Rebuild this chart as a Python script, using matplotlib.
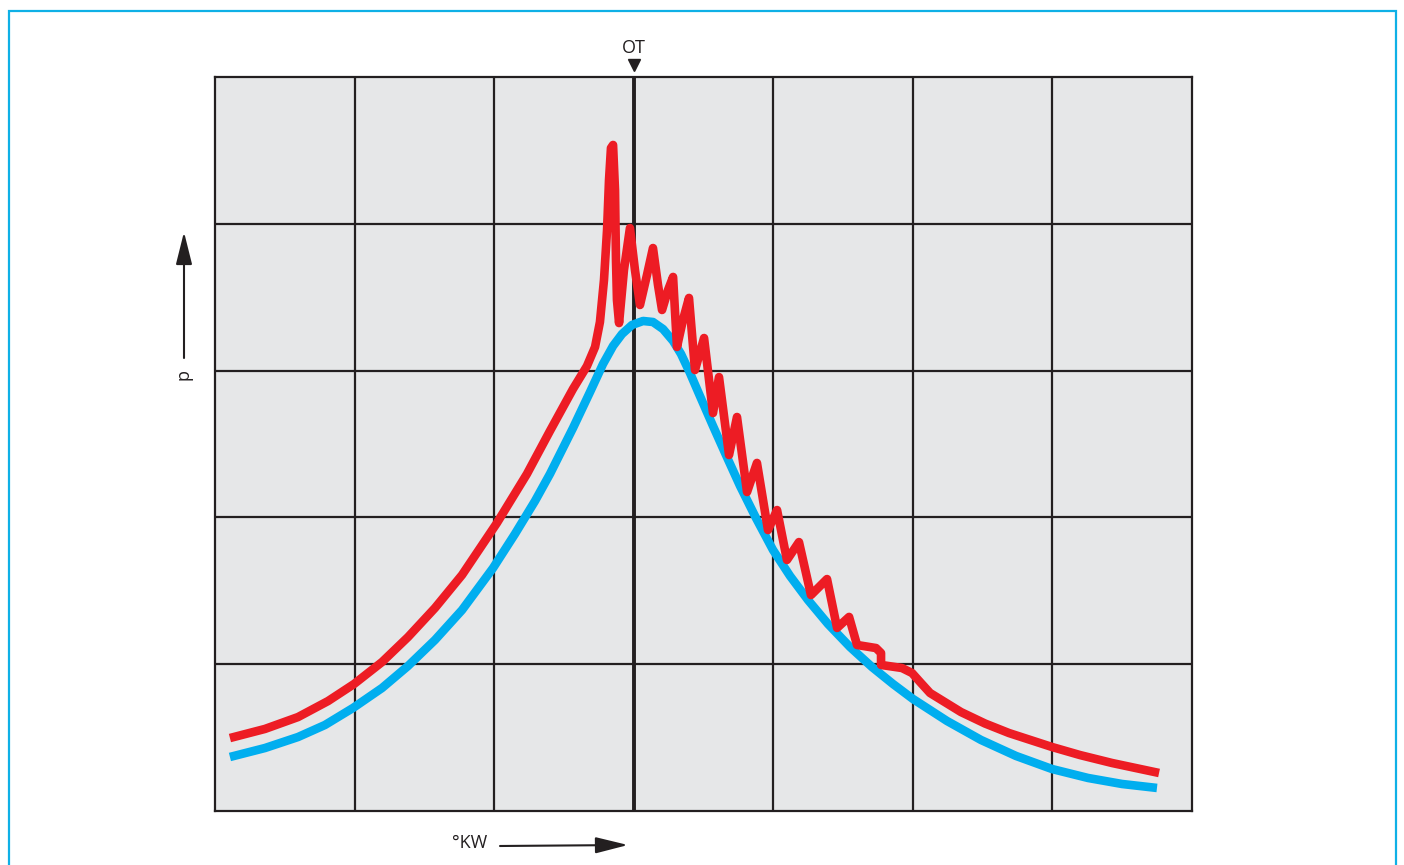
import matplotlib
matplotlib.use('agg')
import matplotlib.pyplot as plt
from matplotlib.patches import Rectangle

plt.rcParams['font.family'] = ['Open Sans', 'DejaVu Sans']

# Messkurven in Rastereinheiten (x: 7 Felder, y: 5 Felder), OT bei x=3
blue_x = [0.107, 0.358, 0.595, 0.788, 0.989, 1.197, 1.383, 1.576, 1.770, 1.992,
          2.149, 2.293, 2.400, 2.565, 2.687, 2.780, 2.852, 2.916, 2.988, 3.067,
          3.138, 3.210, 3.282, 3.339, 3.403, 3.468, 3.568, 3.661, 3.762, 3.876,
          3.998, 4.120, 4.249, 4.392, 4.550, 4.707, 4.858, 5.001, 5.245, 5.488,
          5.739, 5.997, 6.255, 6.499, 6.749]
blue_y = [0.368, 0.429, 0.504, 0.586, 0.702, 0.838, 0.988, 1.165, 1.369, 1.655,
          1.887, 2.112, 2.296, 2.609, 2.854, 3.045, 3.168, 3.249, 3.311, 3.338,
          3.331, 3.283, 3.202, 3.113, 2.984, 2.841, 2.623, 2.425, 2.214, 1.996,
          1.778, 1.601, 1.437, 1.274, 1.117, 0.981, 0.865, 0.763, 0.613, 0.484,
          0.375, 0.286, 0.225, 0.184, 0.157]

red_x = [0.107, 0.358, 0.595, 0.810, 0.996, 1.197, 1.383, 1.576, 1.770, 2.020,
         2.235, 2.400, 2.565, 2.665, 2.723, 2.758, 2.787, 2.809, 2.823,
         2.837, 2.852, 2.866, 2.873, 2.880, 2.895, 2.930, 2.973, 3.009, 3.045,
         3.095, 3.138, 3.174, 3.203, 3.246, 3.282, 3.310, 3.353, 3.396, 3.439,
         3.504, 3.568, 3.611, 3.683, 3.740, 3.812, 3.883, 3.962, 4.027, 4.098,
         4.184, 4.270, 4.385, 4.457, 4.543, 4.600, 4.736, 4.772, 4.772, 4.922,
         4.994, 5.058, 5.123, 5.345, 5.517, 5.689, 5.997, 6.198, 6.427, 6.764]
red_y = [0.497, 0.559, 0.640, 0.749, 0.865, 1.015, 1.185, 1.383, 1.608, 1.962,
         2.296, 2.589, 2.875, 3.031, 3.161, 3.331, 3.617, 3.958, 4.298,
         4.516, 4.537, 4.230, 3.753, 3.481, 3.324, 3.685, 3.971, 3.685, 3.447,
         3.651, 3.835, 3.583, 3.413, 3.549, 3.638, 3.161, 3.345, 3.495, 3.004,
         3.222, 2.711, 2.956, 2.425, 2.684, 2.173, 2.371, 1.914, 2.050, 1.710,
         1.832, 1.471, 1.580, 1.247, 1.322, 1.131, 1.110, 1.076, 0.995, 0.974,
         0.940, 0.872, 0.804, 0.674, 0.596, 0.531, 0.436, 0.381, 0.327, 0.259]

dark = '#231F20'
W, H = 1404, 865
fig = plt.figure(figsize=(W / 100, H / 100), dpi=100)
ax = fig.add_axes([215 / W, (H - 811) / H, (1192 - 215) / W, (811 - 77) / H])
ax.set_facecolor('#E6E7E8')
ax.set_xlim(0, 7)
ax.set_ylim(0, 5)
ax.set_xticks([])
ax.set_yticks([])
for s in ax.spines.values():
    s.set_color(dark)
    s.set_linewidth(1.6)

for i in range(1, 7):
    ax.axvline(i, color=dark, lw=1.6 if i != 3 else 2.8, zorder=1)
for j in range(1, 5):
    ax.axhline(j, color=dark, lw=1.6, zorder=1)

ax.plot(blue_x, blue_y, color='#00AEEF', lw=6.2, solid_joinstyle='round',
        solid_capstyle='butt', zorder=3)
ax.plot(red_x, red_y, color='#ED1C24', lw=6.2, solid_joinstyle='round',
        solid_capstyle='butt', zorder=4)

# OT-Markierung
ax.plot([3], [1.016], marker='v', markersize=9, color=dark,
        transform=ax.get_xaxis_transform(), clip_on=False)
fig.text(634 / W, (H - 48) / H, 'OT', ha='center', va='center', fontsize=13, color=dark)

# Achsenpfeile
arrow = dict(arrowstyle='-|>,head_length=1.0,head_width=0.25', lw=1.5,
             color=dark, mutation_scale=20, shrinkA=0, shrinkB=0)
ax.annotate('', xy=(184, H - 232), xytext=(184, H - 358),
            xycoords='figure pixels', textcoords='figure pixels', arrowprops=arrow)
fig.text(184 / W, (H - 374) / H, 'p', rotation=90, ha='center', va='center',
         fontsize=13, color=dark)
ax.annotate('', xy=(628, H - 845), xytext=(500, H - 846),
            xycoords='figure pixels', textcoords='figure pixels', arrowprops=arrow)
fig.text(470 / W, (H - 843) / H, '°KW', ha='center', va='center', fontsize=13, color=dark)

# Rahmen
fig.add_artist(Rectangle((9 / W, -0.1), (1396 - 9) / W, (H - 11) / H + 0.1,
                         transform=fig.transFigure, fill=False,
                         edgecolor='#0FB0E6', lw=1.6))

fig.savefig('out.png', dpi=100)
